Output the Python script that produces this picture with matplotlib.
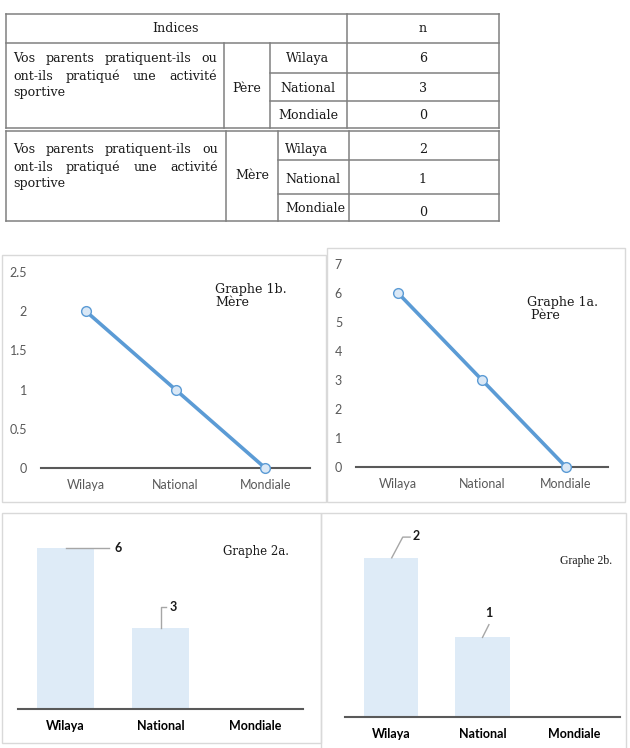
import matplotlib.pyplot as plt
from matplotlib.patches import Rectangle

W, H = 630, 748

categories = ['Wilaya', 'National', 'Mondiale']
pere = [6, 3, 0]
mere = [2, 1, 0]
question = ['Vos parents pratiquent-ils ou', 'ont-ils pratiqué une activité', 'sportive']
header = ['Indices', 'n']

SERIF = 'DejaVu Serif'
SANS = 'Lato'
LINE_C = '#5b9bd5'
BAR_C = '#deebf7'
GRID_C = '#808080'

fig = plt.figure(figsize=(W / 100, H / 100), dpi=100)
bg = fig.add_axes([0, 0, 1, 1])
bg.set_xlim(0, W)
bg.set_ylim(H, 0)
bg.axis('off')


def px_axes(x0, x1, y0, y1):
    """axes placé en pixels (haut = y0)"""
    ax = fig.add_axes([x0 / W, 1 - y1 / H, (x1 - x0) / W, (y1 - y0) / H])
    ax.patch.set_alpha(0)
    return ax


def hline(x0, x1, y):
    bg.plot([x0, x1], [y, y], color=GRID_C, lw=1.1)


def vline(x, y0, y1):
    bg.plot([x, x], [y0, y1], color=GRID_C, lw=1.1)


def justify(lines, x0, x1, ys, **kw):
    r = fig.canvas.get_renderer()
    for i, (line, y) in enumerate(zip(lines, ys)):
        words = line.split()
        if i == len(lines) - 1 or len(words) == 1:
            bg.text(x0, y, line, ha='left', va='center', **kw)
            continue
        ts = [bg.text(0, y, w, ha='left', va='center', **kw) for w in words]
        widths = [t.get_window_extent(r).width for t in ts]
        gap = (x1 - x0 - sum(widths)) / (len(words) - 1)
        x = x0
        for t, w in zip(ts, widths):
            t.set_x(x)
            x += w + gap


tkw = dict(family=SERIF, fontsize=9.1, color='#1a1a1a')

# ---- tableau, bloc 1 (Père)
hline(6, 499, 14); hline(6, 499, 43); hline(6, 499, 128)
hline(270, 499, 73); hline(270, 499, 101)
vline(6, 14, 128); vline(499, 14, 128); vline(347, 14, 128)
vline(224, 43, 128); vline(270, 43, 128)
bg.text(176, 28, header[0], ha='center', va='center', **tkw)
bg.text(423, 28, header[1], ha='center', va='center', **tkw)
justify(question, 13, 217, [58, 76, 92], **tkw)
bg.text(247, 88, 'Père', ha='center', va='center', **tkw)
for cat, v, y in zip(categories, pere, [58, 88, 115]):
    bg.text(308, y, cat, ha='center', va='center', **tkw)
    bg.text(423, y, str(v), ha='center', va='center', **tkw)

# ---- tableau, bloc 2 (Mère)
hline(6, 499, 131); hline(6, 499, 221)
hline(278, 499, 160); hline(278, 499, 194)
vline(6, 131, 221); vline(499, 131, 221)
vline(226, 131, 221); vline(278, 131, 221); vline(349, 131, 221)
justify(question, 13, 218, [149, 167, 183], **tkw)
bg.text(252, 175, 'Mère', ha='center', va='center', **tkw)
for cat, v, y, yv in zip(categories, mere, [149, 179, 208], [149, 179, 212]):
    bg.text(285, y, cat, ha='left', va='center', **tkw)
    bg.text(423, yv, str(v), ha='center', va='center', **tkw)

# ---- cadres des graphes
for x0, x1, y0, y1 in [(2, 326, 255, 502), (327, 625, 248, 502),
                       (2, 321, 513, 743), (321, 626, 513, 752)]:
    bg.add_patch(Rectangle((x0, y0), x1 - x0, y1 - y0, fill=False,
                           ec='#d9d9d9', lw=1.0))


def style_axes(ax, yticks=None, bold=False):
    for s in ['top', 'right', 'left']:
        ax.spines[s].set_visible(False)
    ax.spines['bottom'].set_color('#595959')
    ax.spines['bottom'].set_linewidth(1.5)
    ax.set_xlim(-0.5, 2.5)
    ax.set_xticks(range(len(categories)))
    ax.set_xticklabels(categories, family=SANS, fontsize=9,
                       color='#000000' if bold else '#595959',
                       fontweight='bold' if bold else 'normal')
    ax.tick_params(axis='x', length=0, pad=8)
    if yticks is None:
        ax.set_yticks([])
    else:
        ax.set_yticks(yticks)
        ax.set_yticklabels([f'{t:g}' for t in yticks], family=SANS,
                           fontsize=9, color='#595959')
        ax.tick_params(axis='y', length=0, pad=10)


def line_chart(ax, vals, ymax, yticks, label, lx, ly):
    ax.plot(range(len(vals)), vals, color=LINE_C, lw=2.6, marker='o',
            ms=7, mfc='#dae8f6', mec=LINE_C, mew=1.0, clip_on=False, zorder=3)
    ax.set_ylim(0, ymax)
    style_axes(ax, yticks)
    bg.text(lx, ly, label, ha='left', va='top', family=SERIF, fontsize=9.1,
            color='#1a1a1a', linespacing=1.0)


# Graphe 1b (Mère)
ax1 = px_axes(41, 310, 272, 468)
line_chart(ax1, mere, 2.5, [0, 0.5, 1, 1.5, 2, 2.5], 'Graphe 1b.\nMère', 215, 283)

# Graphe 1a (Père)
ax2 = px_axes(356, 608, 264, 467)
line_chart(ax2, pere, 7, list(range(8)), 'Graphe 1a.\n Père', 527, 296)


def bar_chart(ax, vals, ymax, width):
    ax.bar(range(len(vals)), vals, width=width, color=BAR_C, zorder=1)
    ax.set_ylim(0, ymax)
    style_axes(ax, None, bold=True)


lead = dict(color='#a6a6a6', lw=1.0)
lab = dict(family=SANS, fontsize=9, fontweight='bold', color='#1a1a1a')

# Graphe 2a (Père)
ax3 = px_axes(18, 303, 521, 709)
bar_chart(ax3, pere, 7, 0.6)
ax3.plot([0, 0.46], [pere[0], pere[0]], **lead)
ax3.text(0.52, pere[0], str(pere[0]), ha='left', va='center', **lab)
ax3.plot([1, 1, 1.06], [pere[1], pere[1] + 0.78, pere[1] + 0.78], **lead)
ax3.text(1.1, pere[1] + 0.78, str(pere[1]), ha='left', va='center', **lab)
bg.text(223, 552, 'Graphe 2a.', ha='left', va='center', family=SERIF,
        fontsize=8.5, color='#1a1a1a')

# Graphe 2b (Mère)
ax4 = px_axes(345, 620, 518, 717)
bar_chart(ax4, mere, 2.5, 0.59)
ax4.plot([0.01, 0.13, 0.21], [mere[0], mere[0] + 0.26, mere[0] + 0.26], **lead)
ax4.text(0.24, mere[0] + 0.27, str(mere[0]), ha='left', va='center', **lab)
ax4.plot([1.0, 1.07], [mere[1], mere[1] + 0.16], **lead)
ax4.text(1.07, mere[1] + 0.31, str(mere[1]), ha='center', va='center', **lab)
bg.text(560, 561, 'Graphe 2b.', ha='left', va='center', family='Liberation Serif',
        fontsize=8.5, color='#1a1a1a')

fig.savefig('out.png', dpi=100)
